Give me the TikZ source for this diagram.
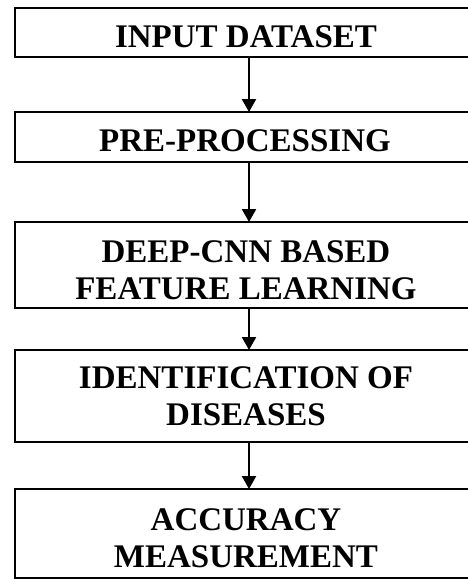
\documentclass[tikz,border=0pt]{standalone}
\usepackage{fontspec}
\setmainfont{Liberation Serif}
\usetikzlibrary{arrows.meta}
\begin{document}
\begin{tikzpicture}[x=1pt,y=-1pt,
  stagebox/.style={draw=black, line width=2.6pt, rectangle, inner sep=0pt, outer sep=0pt, minimum width=468pt},
  stagetext/.style={font=\bfseries\fontsize{33}{37}\selectfont, align=center, inner sep=0pt},
  flowarrow/.style={line width=2.4pt, -{Triangle[width=14pt,length=13pt]}}]
\clip (0,0) rectangle (468,579);
\fill[white] (0,0) rectangle (468,579);
\node[stagebox, minimum height=49pt] (b1) at (249,32.5) {};
\node[stagebox, minimum height=50pt] (b2) at (249,137) {};
\node[stagebox, minimum height=86pt] (b3) at (249,265) {};
\node[stagebox, minimum height=92pt] (b4) at (249,396) {};
\node[stagebox, minimum height=89pt] (b5) at (249,533.5) {};
\node[stagetext] (t1) at (246,37) {INPUT DATASET};
\node[stagetext] (t2) at (245,141) {PRE-PROCESSING};
\node[stagetext] (t3) at (246,270.5) {DEEP-CNN BASED\\FEATURE LEARNING};
\node[stagetext] (t4) at (246,396.5) {IDENTIFICATION OF\\DISEASES};
\node[stagetext] (t5) at (246,538.5) {ACCURACY\\MEASUREMENT};
\draw[flowarrow] (b1.south) -- (b2.north);
\draw[flowarrow] (b2.south) -- (b3.north);
\draw[flowarrow] (b3.south) -- (b4.north);
\draw[flowarrow] (b4.south) -- (b5.north);
\end{tikzpicture}
\end{document}
